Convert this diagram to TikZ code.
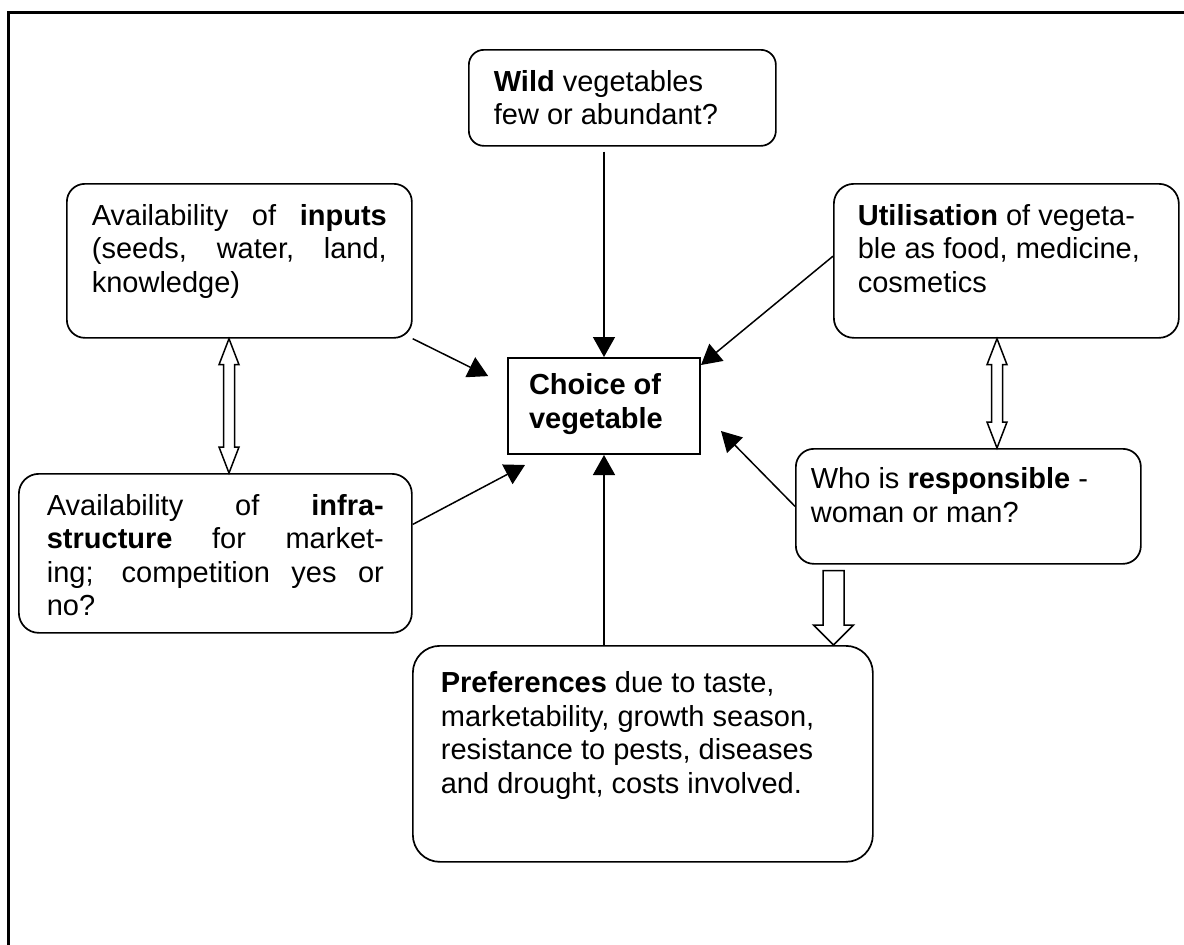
\documentclass[tikz,border=0pt]{standalone}
\usepackage{fontspec}
\setmainfont{Liberation Sans}
\usetikzlibrary{arrows.meta,calc}

% text block of fixed size, top aligned: #1 width, #2 height, #3 top gap, #4 text
\newcommand\boxtext[4]{\parbox[c][#2pt][t]{#1pt}{\vspace*{#3pt}\raggedright\strut #4}}
% a line stretched to the full width (justified line)
\newcommand\fullline[1]{\makebox[\linewidth][s]{#1}}
% hollow vertical double block arrow between two coordinates (top, bottom)
\newcommand\dblblock[2]{%
  \draw[hollow] let \p1=(#1), \p2=(#2) in
    (\p1) -- ++(10pt,-26pt) -- ++(-4.5pt,0pt) -- (\x1+5.5pt,\y2+26pt)
    -- ++(4.5pt,0pt) -- (\x1,\y2) -- ++(-10pt,26pt) -- ++(4.5pt,0pt)
    -- (\x1-5.5pt,\y1-26pt) -- ++(-4.5pt,0pt) -- cycle;}
% hollow downward block arrow from shaft top #1 to tip #2
\newcommand\downblock[2]{%
  \draw[hollow] let \p1=(#1), \p2=(#2) in
    (\x1-10.5pt,\y1) -- (\x1+10.5pt,\y1) -- (\x1+10.5pt,\y2+20pt)
    -- (\x1+20pt,\y2+20pt) -- (\x1,\y2) -- (\x1-20pt,\y2+20pt)
    -- (\x1-10.5pt,\y2+20pt) -- cycle;}

\begin{document}
\begin{tikzpicture}[x=1pt,y=-1pt,
  every node/.style={font=\fontsize{29}{33.5}\selectfont},
  box/.style={draw, line width=1.7pt, inner ysep=0pt, anchor=north west},
  conn/.style={line width=1.5pt, -{Triangle[length=20pt,width=22pt]}},
  hollow/.style={draw, fill=white, line width=1.5pt, line join=miter}]

\useasboundingbox (0,0) rectangle (1184,945);

% outer frame (only top and left edges lie inside the page)
\draw[line width=2.3pt] (8.5,945) -- (8.5,12.5) -- (1184,12.5);

% boxes
\node[box, rounded corners=15pt, inner xsep=25pt] (wild) at (468,49)
  {\boxtext{257}{96}{18}{\textbf{Wild} vegetables\\few or abundant?}};

\node[box, rounded corners=18pt, inner xsep=25pt] (inputs) at (66,183)
  {\boxtext{295}{154}{18}{\fullline{Availability of \textbf{inputs}}\\
   \fullline{(seeds, water, land,}\\knowledge)}};

\node[box, rounded corners=20pt, inner xsep=24pt] (util) at (833,183)
  {\boxtext{297}{154}{18}{\textbf{Utilisation} of vegeta-\\ble as food, medicine,\\cosmetics}};

\node[box, rounded corners=0pt, line width=2pt, inner xsep=21pt] (choice) at (507,357)
  {\boxtext{150}{96}{13.5}{\textbf{Choice of}\\\textbf{vegetable}}};

\node[box, rounded corners=18pt, inner xsep=15pt] (resp) at (795,448)
  {\boxtext{315}{115}{16.5}{Who is \textbf{responsible} -\\woman or man?}};

\node[box, rounded corners=20pt, inner xsep=28pt] (infra) at (18,473)
  {\boxtext{337}{159}{18}{\fullline{Availability of \textbf{infra-}}\\
   \fullline{\textbf{structure} for market-}\\
   \fullline{ing; competition yes or}\\no?}};

\node[box, rounded corners=27pt, inner xsep=28pt] (pref) at (412,645)
  {\boxtext{404}{216}{23.5}{\textbf{Preferences} due to taste,\\marketability, growth season,\\
   resistance to pests, diseases\\and drought, costs involved.}};

% influences on the choice
\draw[conn, shorten <=5pt] (wild.south -| choice.north) -- (choice.north);
\draw[conn] (pref.north -| choice.south) -- (choice.south);
\draw[conn, shorten >=21pt] (inputs.south east)
  -- ($(choice.north west)!0.29!(choice.south west)$);
\draw[conn] ($(util.north west)!0.47!(util.south west)$)
  -- ([yshift=-8pt]choice.north east);
\draw[conn] (resp.west) -- ([shift={(20,25)}]choice.east);
\draw[conn] ($(infra.north east)!0.32!(infra.south east)$)
  -- ([shift={(18,10)}]choice.south west);

% mutual links and the responsibility arrow
\path (inputs.south west) ++(163,0) coordinate (dA);
\path (dA |- infra.north) coordinate (dAb);
\dblblock{dA}{dAb}
\path (util.south west) ++(164,0) coordinate (dB);
\path (dB |- resp.north) coordinate (dBb);
\dblblock{dB}{dBb}
\path (resp.south west) ++(38.5,6) coordinate (sA);
\path (sA |- pref.north) coordinate (sAb);
\downblock{sA}{sAb}
\end{tikzpicture}
\end{document}
